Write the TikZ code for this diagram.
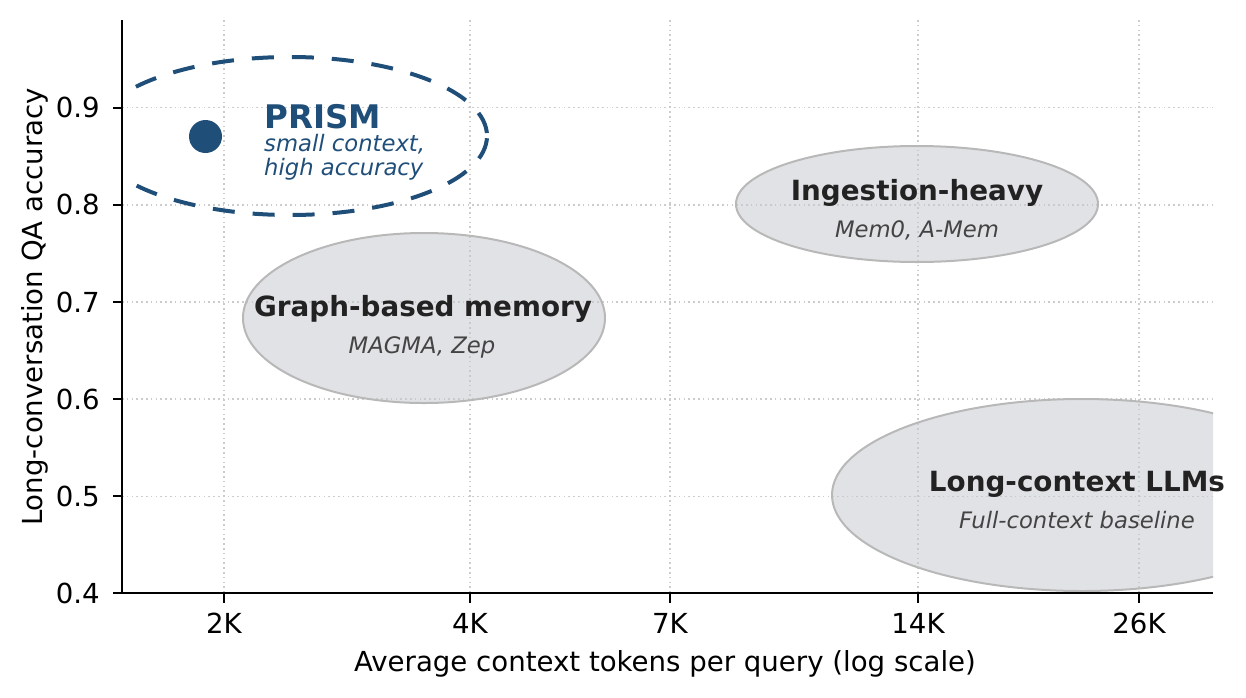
\documentclass[tikz,border=0pt]{standalone}
\usepackage{fontspec}
\setmainfont{DejaVu Sans}[ItalicFont={DejaVu Sans Oblique},BoldFont={DejaVu Sans Bold},BoldItalicFont={DejaVu Sans Bold Oblique}]
\definecolor{prism}{HTML}{1F4E79}
\definecolor{regfill}{HTML}{C8CACF}
\definecolor{regline}{HTML}{B8B8B8}
\definecolor{gridc}{HTML}{CCCCCC}
\definecolor{titc}{HTML}{222222}
\definecolor{subc}{HTML}{444444}
\begin{document}
\begin{tikzpicture}[x=1pt,y=-1pt,
  gridline/.style={gridc, line width=1.3pt, dash pattern=on 1.6pt off 3.2pt},
  spine/.style={black, line width=2.8pt},
  tickmark/.style={black, line width=2.4pt},
  ticklab/.style={inner sep=0pt, font=\fontsize{27.6}{32}\selectfont},
  region/.style={fill=regfill, fill opacity=0.55, draw=regline, line width=2pt},
  regtitle/.style={inner sep=0pt, anchor=base, text=titc, font=\fontsize{27.8}{32}\selectfont\bfseries},
  regsub/.style={inner sep=0pt, anchor=base, text=subc, font=\fontsize{22.7}{27}\selectfont\itshape},
  prismtitle/.style={inner sep=0pt, anchor=base west, text=prism, font=\fontsize{32.5}{38}\selectfont\bfseries},
  prismsub/.style={inner sep=0pt, anchor=base west, text=prism, font=\fontsize{22.7}{27}\selectfont\itshape},
]
\useasboundingbox (0,0) rectangle (1246,697);
% grid
\foreach \x in {224,470,670,918,1139} \draw[gridline] (\x,20) -- (\x,593);
\foreach \y in {496.2,399.1,302,204.9,107.8} \draw[gridline] (122,\y) -- (1213,\y);
% regions
\begin{scope}
\clip (122,20) rectangle (1213,593);
\draw[region] (424,318) ellipse [x radius=181, y radius=85];
\draw[region] (917,204) ellipse [x radius=181, y radius=58];
\draw[region] (1082,495) ellipse [x radius=250, y radius=96];
\coordinate (pe) at (487,136);
\draw[prism, line width=4pt, dash pattern=on 22pt off 18pt, dash phase=37pt] (pe) arc[start angle=0, end angle=-360, x radius=197, y radius=79] -- cycle;
\end{scope}
\node[circle, fill=prism, minimum size=33pt, inner sep=0pt] (dot) at (205.5,136.5) {};
% spines and ticks
\draw[spine] (122,20) -- (122,593) -- (1213,593);
\foreach \x/\l [count=\i] in {224/2K,470/4K,670/7K,918/14K,1139/26K}{
  \draw[tickmark] (\x,593) -- (\x,602.5);
  \node[ticklab, anchor=base] (xt\i) at (\x,633) {\l};
}
\foreach \y/\l [count=\i] in {593/0.4,496.2/0.5,399.1/0.6,302/0.7,204.9/0.8,107.8/0.9}{
  \draw[tickmark] (122,\y) -- (112.5,\y);
  \node[ticklab, anchor=base east] (yt\i) at (100,\y+10) {\l};
}
\node[ticklab, anchor=base] (xlab) at (665,671.5) {Average context tokens per query (log scale)};
\node[ticklab, anchor=base, rotate=90] (ylab) at (42,307) {Long-conversation QA accuracy};
% region labels
\node[regtitle] (ingt) at (917,200) {Ingestion-heavy};
\node[regsub] (ings) at (917,237) {Mem0, A-Mem};
\node[regtitle] (grat) at (423,316) {Graph-based memory};
\node[regsub] (gras) at (422,353) {MAGMA, Zep};
\node[regtitle] (lct) at (1077,491) {Long-context LLMs};
\node[regsub] (lcs) at (1077,528) {Full-context baseline};
\node[prismtitle] (pt) at (264,128) {PRISM};
\node[prismsub] (ps1) at (264,151) {small context,};
\node[prismsub] (ps2) at (264,175) {high accuracy};
\end{tikzpicture}
\end{document}
